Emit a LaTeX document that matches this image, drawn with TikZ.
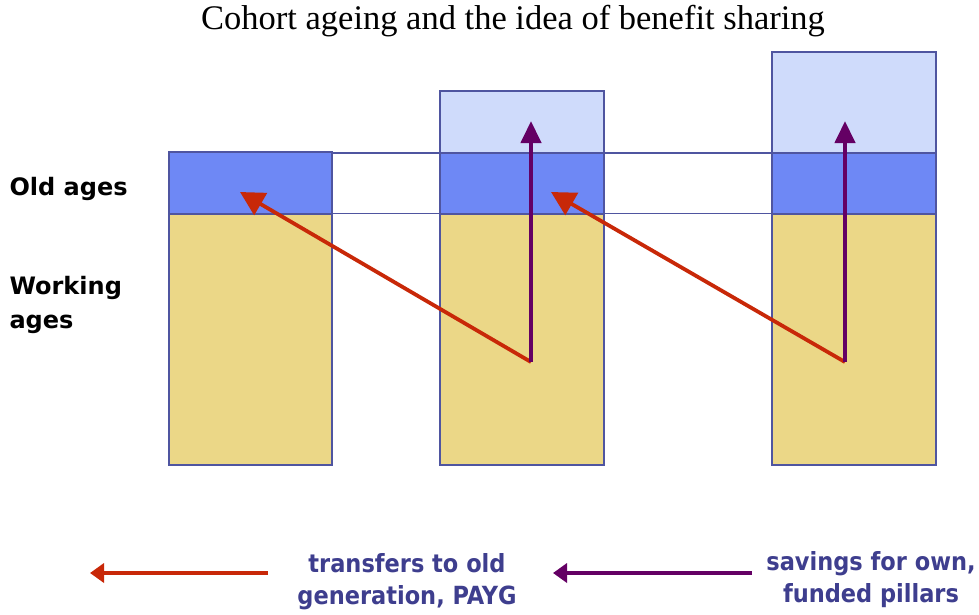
\documentclass[tikz,border=0pt]{standalone}
\usepackage{fontspec}
\setmainfont{Liberation Serif}
\newfontfamily\lblfont{DejaVu Sans}
\newfontfamily\legfont{DejaVu Sans Condensed}
\usetikzlibrary{arrows.meta}
\definecolor{yel}{HTML}{EBD787}
\definecolor{blu}{HTML}{6E88F5}
\definecolor{lblu}{HTML}{CFDBFB}
\definecolor{edge}{HTML}{4F55A0}
\definecolor{redarr}{HTML}{C82808}
\definecolor{purarr}{HTML}{640064}
\definecolor{legtxt}{HTML}{3E3E8E}
\tikzset{
  box/.style={draw=edge, line width=1.5pt},
  guide/.style={draw=edge, line width=1.6pt},
  redflow/.style={draw=redarr, line width=3.8pt, -{Triangle[length=24pt,width=25pt]}},
  purflow/.style={draw=purarr, line width=4.2pt, -{Triangle[length=22pt,width=20pt]}},
  legred/.style={draw=redarr, line width=4.5pt, -{Triangle[length=14pt,width=19pt]}},
  legpur/.style={draw=purarr, line width=4.5pt, -{Triangle[length=14pt,width=19pt]}},
  sidelbl/.style={font=\lblfont\bfseries\fontsize{24}{34}\selectfont, anchor=west, align=left},
  leglbl/.style={font=\legfont\bfseries\fontsize{25}{32}\selectfont, text=legtxt, align=center}
}
\begin{document}
\begin{tikzpicture}[x=1pt,y=-1pt]
\useasboundingbox (0,0) rectangle (979,614);
% guide lines
\draw[guide] (332,153) -- (936,153);
\draw[guide] (332,213.5) -- (936,213.5);
% column 1
\fill[yel] (169,214) rectangle (332,465);
\fill[blu] (169,152) rectangle (332,214);
\draw[box] (169,152) rectangle (332,465);
\draw[box] (169,214) -- (332,214);
% column 2
\fill[yel] (440,214) rectangle (604,465);
\fill[blu] (440,153) rectangle (604,214);
\fill[lblu] (440,91) rectangle (604,153);
\draw[box] (440,91) rectangle (604,465);
\draw[box] (440,153) -- (604,153);
\draw[box] (440,214) -- (604,214);
% column 3
\fill[yel] (772,214) rectangle (936,465);
\fill[blu] (772,153) rectangle (936,214);
\fill[lblu] (772,52) rectangle (936,153);
\draw[box] (772,52) rectangle (936,465);
\draw[box] (772,153) -- (936,153);
\draw[box] (772,214) -- (936,214);
% arrow anchors
\coordinate (s2) at (531,362);
\coordinate (s3) at (845,362);
\coordinate (t1) at (240,192);
\coordinate (t2) at (551,192);
\coordinate (u2) at (531,121);
\coordinate (u3) at (845,121);
\draw[redflow] (s2) -- (t1);
\draw[redflow] (s3) -- (t2);
\draw[purflow] (s2) -- (u2);
\draw[purflow] (s3) -- (u3);
% title and labels
\node (title) at (513,21) {\fontsize{34.5}{40}\selectfont Cohort ageing and the idea of benefit sharing};
\node[sidelbl] (old) at (6,189) {Old ages};
\node[sidelbl] (work) at (6,305) {Working\\ages};
% legend
\coordinate (lr1) at (268,573);
\coordinate (lr2) at (90,573);
\coordinate (lp1) at (752,573);
\coordinate (lp2) at (553,573);
\draw[legred] (lr1) -- (lr2);
\draw[legpur] (lp1) -- (lp2);
\node[leglbl] (ltr) at (407,582) {transfers to old\\generation, PAYG};
\node[leglbl] (lsv) at (871,580) {savings for own,\\funded pillars};
\end{tikzpicture}
\end{document}
